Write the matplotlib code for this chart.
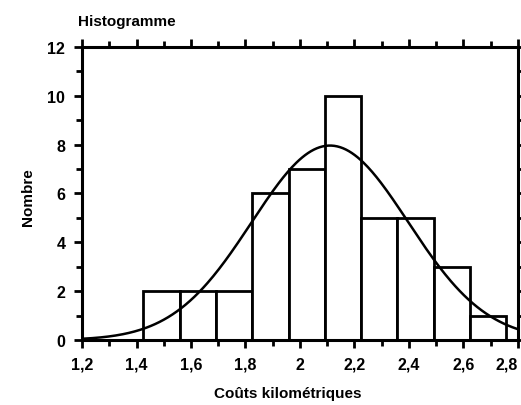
import numpy as np
import matplotlib
matplotlib.use("Agg")
import matplotlib.pyplot as plt
from matplotlib.ticker import MultipleLocator

plt.rcParams["font.family"] = ["Liberation Sans Narrow", "Liberation Sans", "DejaVu Sans"]
plt.rcParams["font.weight"] = "bold"

# histogram data
bin_edges = [1.425, 1.558, 1.691, 1.825, 1.958, 2.091, 2.224, 2.357, 2.491, 2.624, 2.757]
counts = [2, 2, 2, 6, 7, 10, 5, 5, 3, 1]

# fitted normal curve parameters
fit_mean = 2.11
fit_std = 0.287

x_ticks = [1.2, 1.4, 1.6, 1.8, 2.0, 2.2, 2.4, 2.6, 2.8]
x_tick_labels = ["1,2", "1,4", "1,6", "1,8", "2", "2,2", "2,4", "2,6", "2,8"]
y_ticks = [0, 2, 4, 6, 8, 10, 12]


def normal_curve(x, n, width, mu, sigma):
    return n * width * np.exp(-0.5 * ((x - mu) / sigma) ** 2) / (sigma * np.sqrt(2 * np.pi))


fig = plt.figure(figsize=(5.21, 4.06), dpi=100)
ax = fig.add_axes([0.1574, 0.160, 0.8368, 0.722])

widths = np.diff(bin_edges)
ax.bar(bin_edges[:-1], counts, width=widths, align="edge",
       facecolor="white", edgecolor="black", linewidth=2, zorder=2)

xs = np.linspace(1.2, 2.8, 300)
ax.plot(xs, normal_curve(xs, sum(counts), widths.mean(), fit_mean, fit_std),
        color="black", linewidth=1.8, zorder=3)

ax.set_xlim(1.2, 2.8)
ax.set_ylim(0, 12)
ax.set_xticks(x_ticks)
ax.set_xticklabels(x_tick_labels)
ax.set_yticks(y_ticks)
ax.xaxis.set_minor_locator(MultipleLocator(0.1))
ax.yaxis.set_minor_locator(MultipleLocator(1))

for s in ax.spines.values():
    s.set_linewidth(2.2)
ax.tick_params(which="both", direction="out", top=True, right=True, width=2)
ax.tick_params(which="major", length=6, labelsize=11.5, pad=6)
ax.tick_params(which="minor", length=4)

# last label sits at the figure edge, keep it inside
ax.get_xticklabels()[-1].set_horizontalalignment("right")

fig.text(78 / 521, 1 - 22 / 406, "Histogramme", fontsize=11, fontweight="bold",
         ha="left", va="center")
fig.text(288 / 521, 1 - 394 / 406, "Coûts kilométriques", fontsize=11, fontweight="bold",
         ha="center", va="center")
fig.text(28 / 521, 1 - 197 / 406, "Nombre", fontsize=11, fontweight="bold",
         ha="center", va="center", rotation=90)

fig.savefig("out.png", dpi=100)
